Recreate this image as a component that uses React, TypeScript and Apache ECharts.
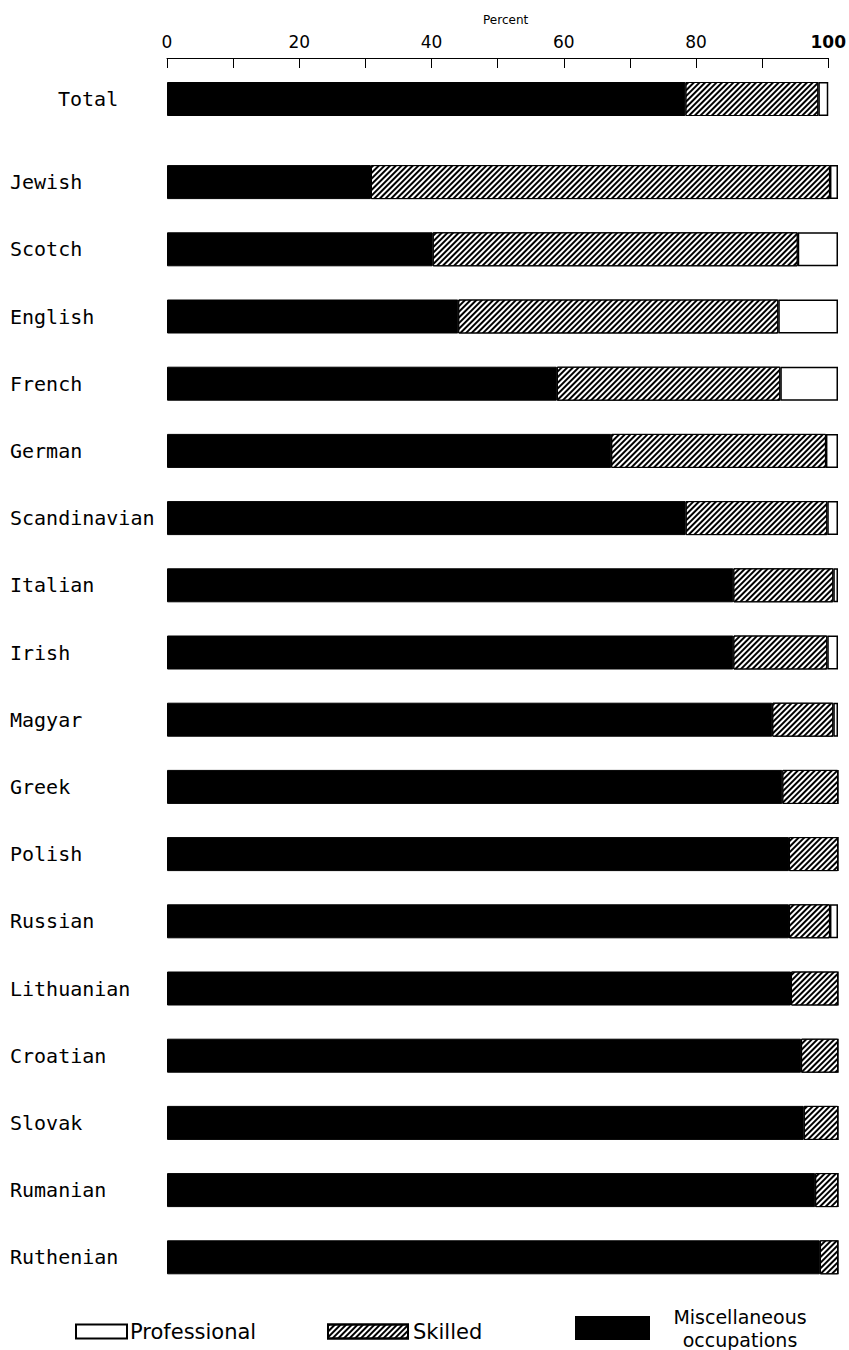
import React, { useEffect, useRef } from "react";
import * as echarts from "echarts";

const totalCategory = ["Total"];
const totalMisc = [78.4];
const totalSkilled = [20.1];
const totalProfessional = [1.5];

const categories = [
  "Jewish", "Scotch", "English", "French", "German", "Scandinavian", "Italian", "Irish",
  "Magyar", "Greek", "Polish", "Russian", "Lithuanian", "Croatian", "Slovak", "Rumanian", "Ruthenian",
];
const miscValues = [30.4, 39.6, 43.4, 58.1, 66.2, 77.3, 84.4, 84.4, 90.2, 91.7, 92.7, 92.7, 93.0, 94.5, 94.9, 96.6, 97.3];
const skilledValues = [68.4, 54.4, 47.7, 33.3, 32.0, 21.1, 14.9, 14.0, 9.1, 8.3, 7.3, 6.1, 7.0, 5.5, 5.1, 3.4, 2.7];
const professionalValues = [1.2, 6.0, 8.9, 8.6, 1.8, 1.6, 0.7, 1.6, 0.7, 0, 0, 1.2, 0, 0, 0, 0, 0];

const tickLabels = ["0", "20", "40", "60", "80", "100"];

const MISC = "Miscellaneous occupations";
const SKILLED = "Skilled";
const PROF = "Professional";

const hatch = {
  symbol: "rect",
  symbolSize: 1,
  color: "#000",
  dashArrayX: [1, 0],
  dashArrayY: [1.8, 1.2],
  rotation: -Math.PI / 4,
};

export default function App() {
  const ref = useRef<HTMLDivElement>(null);
  useEffect(() => {
    if (!ref.current) return;
    const chart = echarts.init(ref.current, null, { renderer: "svg" });
    const labelFont = "'DejaVu Sans Mono', monospace";
    const sansFont = "'DejaVu Sans', sans-serif";
    const mkSeries = (gi: number, misc: number[], sk: number[], pr: number[]) => [
      {
        name: MISC, type: "bar", stack: "s" + gi, xAxisIndex: gi, yAxisIndex: gi, barWidth: 34,
        itemStyle: { color: "#000", borderColor: "#000", borderWidth: 1 },
        data: misc,
      },
      {
        name: SKILLED, type: "bar", stack: "s" + gi, xAxisIndex: gi, yAxisIndex: gi, barWidth: 34,
        itemStyle: { color: "#fff", borderColor: "#000", borderWidth: 1, decal: hatch },
        data: sk,
      },
      {
        name: PROF, type: "bar", stack: "s" + gi, xAxisIndex: gi, yAxisIndex: gi, barWidth: 34,
        itemStyle: { color: "#fff", borderColor: "#000", borderWidth: 1.5 },
        data: pr,
      },
    ];
    chart.setOption({
      animation: false,
      backgroundColor: "#fff",
      grid: [
        { left: 167, right: 11, top: 58, height: 82 },
        { left: 167, right: 11, top: 148.5, height: 1142.4 },
      ],
      xAxis: [
        {
          gridIndex: 0, type: "value", position: "top", min: 0, max: 100, interval: 10,
          name: "Percent", nameLocation: "middle", nameGap: 32,
          nameTextStyle: { fontSize: 12, color: "#000", fontFamily: sansFont, padding: [0, 0, 0, 16] },
          axisLine: { show: true, lineStyle: { color: "#000", width: 1 } },
          axisTick: { show: true, inside: true, length: 10, lineStyle: { color: "#000", width: 1 } },
          splitLine: { show: false },
          axisLabel: {
            margin: 8,
            color: "#000",
            fontSize: 17,
            fontFamily: sansFont,
            formatter: (v: number) => {
              const s = String(v);
              if (!tickLabels.includes(s)) return "";
              return s === "100" ? "{b|" + s + "}" : s;
            },
            rich: { b: { fontSize: 17, fontWeight: "bold", fontFamily: sansFont, color: "#000" } },
          },
        },
        { gridIndex: 1, type: "value", min: 0, max: 100, show: false },
      ],
      yAxis: [
        {
          gridIndex: 0, type: "category", inverse: true, data: totalCategory,
          axisLine: { show: false }, axisTick: { show: false },
          axisLabel: { margin: 109, align: "left", fontSize: 20, color: "#000", fontFamily: labelFont },
        },
        {
          gridIndex: 1, type: "category", inverse: true, data: categories,
          axisLine: { show: false }, axisTick: { show: false },
          axisLabel: { margin: 157, align: "left", fontSize: 20, color: "#000", fontFamily: labelFont },
        },
      ],
      legend: [
        {
          data: [PROF], left: 70, top: 1316, itemWidth: 51, itemHeight: 14, icon: "rect",
          selectedMode: false, itemGap: 4,
          textStyle: { fontSize: 21, color: "#000", fontFamily: sansFont, padding: [0, 0, 0, -2] },
        },
        {
          data: [SKILLED], left: 322, top: 1316, itemWidth: 80, itemHeight: 14, icon: "rect",
          selectedMode: false,
          textStyle: { fontSize: 21, color: "#000", fontFamily: sansFont },
        },
        {
          data: [MISC], left: 570, top: 1302, itemWidth: 73, itemHeight: 22, icon: "rect",
          selectedMode: false,
          formatter: () => "{m|Miscellaneous}\n{m|occupations}",
          textStyle: {
            color: "#000", fontFamily: sansFont,
            rich: { m: { fontSize: 19, width: 172, align: "center", lineHeight: 23, fontFamily: sansFont, color: "#000" } },
          },
        },
      ],
      series: [
        ...mkSeries(0, totalMisc, totalSkilled, totalProfessional),
        ...mkSeries(1, miscValues, skilledValues, professionalValues),
      ],
    });
    return () => chart.dispose();
  }, []);
  return (
    <div
      ref={ref}
      style={{ position: "absolute", left: 0, top: 0, width: 849, height: 1350, background: "#fff" }}
    />
  );
}
